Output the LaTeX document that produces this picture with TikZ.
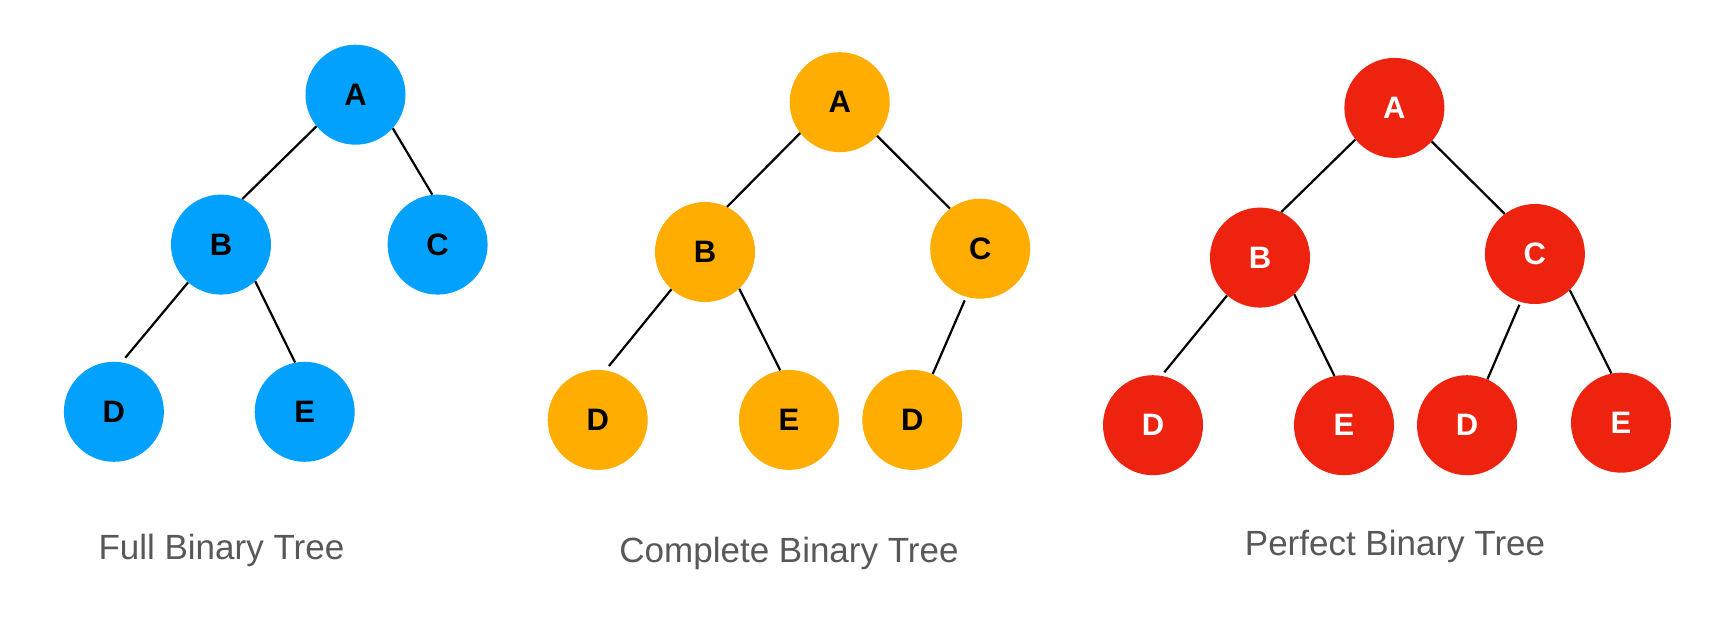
\documentclass[tikz,border=0pt]{standalone}
\usepackage{fontspec}
\setmainfont{Liberation Sans}
\definecolor{tblue}{RGB}{3,161,254}
\definecolor{torange}{RGB}{255,173,0}
\definecolor{tred}{RGB}{237,34,15}
\definecolor{tgray}{RGB}{88,88,88}
\begin{document}
\begin{tikzpicture}[x=1pt,y=-1pt,
  tnode/.style={circle,minimum size=100pt,inner sep=0pt,
    font=\fontsize{31}{31}\selectfont\bfseries},
  bluenode/.style={tnode,fill=tblue,text=black},
  orangenode/.style={tnode,fill=torange,text=black},
  rednode/.style={tnode,fill=tred,text=white},
  edge/.style={draw=black,line width=2.2pt},
  caption/.style={anchor=base,text=tgray,font=\fontsize{35}{40}\selectfont}]
\useasboundingbox (0,0) rectangle (1716,636);
\fill[white] (0,0) rectangle (1716,636);
% Full binary tree
\node[bluenode] (fA) at (355.5,94.7) {A};
\node[bluenode] (fB) at (221,244.6) {B};
\node[bluenode] (fC) at (437.6,244.6) {C};
\node[bluenode] (fD) at (113.9,411.8) {D};
\node[bluenode] (fE) at (304.7,411.8) {E};
\draw[edge] (fA.219.4) -- (fB.65.3);
\draw[edge] (fA.318.3) -- (fC.96.8);
\draw[edge] (fB.229) -- ([shift={(0,-5)}]fD.77.4);
\draw[edge] (fB.313.6) -- (fE.101.6);
\node[caption] (fT) at (221.4,559) {Full Binary Tree};
% Complete binary tree
\node[orangenode] (cA) at (839.7,102.2) {A};
\node[orangenode] (cB) at (705,252) {B};
\node[orangenode] (cC) at (980.2,248.7) {C};
\node[orangenode] (cD) at (597.7,419.9) {D};
\node[orangenode] (cE) at (789,419.9) {E};
\node[orangenode] (cF) at (912.3,419.9) {D};
\draw[edge] (cA.218.8) -- (cB.64.6);
\draw[edge] (cA.318.4) -- (cC.127);
\draw[edge] (cB.228.6) -- ([shift={(0,-5)}]cD.77.3);
\draw[edge] (cB.313.6) -- (cE.100.5);
\draw[edge] ([shift={(0,4)}]cC.252.2) -- (cF.66.9);
\node[caption] (cT) at (789,562) {Complete Binary Tree};
% Perfect binary tree
\node[rednode] (pA) at (1394.4,107.9) {A};
\node[rednode] (pB) at (1260,257.6) {B};
\node[rednode] (pC) at (1534.9,254) {C};
\node[rednode] (pD) at (1153,425.2) {D};
\node[rednode] (pE) at (1344,425.2) {E};
\node[rednode] (pF) at (1467,425.2) {D};
\node[rednode] (pG) at (1621,422.7) {E};
\draw[edge] (pA.219.2) -- (pB.65.2);
\draw[edge] (pA.318.3) -- (pC.127.2);
\draw[edge] (pB.229.9) -- ([shift={(0,-4)}]pD.77.4);
\draw[edge] (pB.313.3) -- (pE.101.6);
\draw[edge] ([shift={(0,3)}]pC.252) -- (pF.66.3);
\draw[edge] (pC.314) -- (pG.101.3);
\node[caption] (pT) at (1395,555) {Perfect Binary Tree};
\end{tikzpicture}
\end{document}
